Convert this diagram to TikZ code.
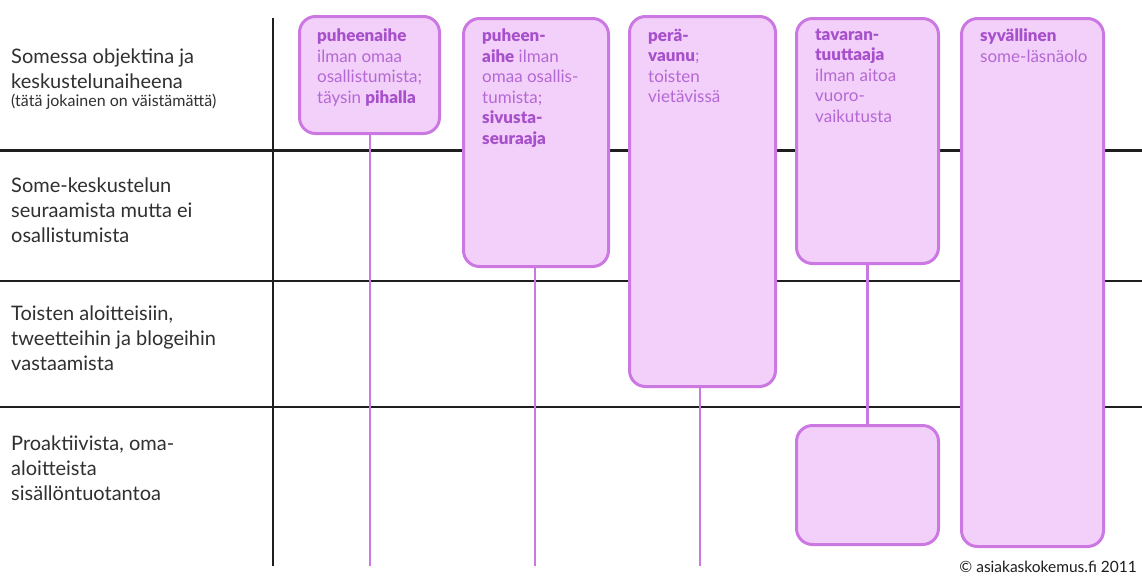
\documentclass[tikz,border=0pt]{standalone}
\usepackage{fontspec}
\setmainfont{Lato}[BoldFont={Lato Black}]
\definecolor{boxfill}{HTML}{F3D0FA}
\definecolor{boxdraw}{HTML}{CC78E2}
\definecolor{boxtext}{HTML}{B468D4}
\definecolor{boxbold}{HTML}{A650CC}
\definecolor{ink}{HTML}{1E1E1E}
\definecolor{labelink}{HTML}{303030}
\tikzset{
  box/.style={draw=boxdraw, line width=3pt, fill=boxfill, rounded corners=16pt, anchor=north west, inner sep=0pt},
  stem/.style={draw=boxdraw, line width=2.4pt},
  grid/.style={draw=ink, line width=2.6pt},
  boxlabel/.style={anchor=north west, align=left, inner sep=0pt, text=boxtext, font=\fontsize{17}{20.5}\selectfont, execute at begin node=\strut},
  rowlabel/.style={anchor=north west, align=left, inner sep=0pt, text=labelink, font=\fontsize{20}{25}\selectfont, execute at begin node=\strut},
}
\newcommand{\bb}[1]{{\bfseries\color{boxbold}#1}}
\begin{document}
\begin{tikzpicture}[x=1pt,y=-1pt]
\useasboundingbox (0,0) rectangle (1142,579);
\fill[white] (0,0) rectangle (1142,579);
% grid
\coordinate (vt) at (273,18);
\coordinate (vb) at (273,566);
\draw[draw=ink, line width=2pt] (vt) -- (vb);
\coordinate (h1l) at (0,150); \coordinate (h1r) at (1142,150);
\coordinate (h2l) at (0,281); \coordinate (h2r) at (1142,281);
\coordinate (h3l) at (0,407); \coordinate (h3r) at (1142,407);
\draw[grid, line width=3pt] (h1l) -- (h1r);
\draw[grid] (h2l) -- (h2r);
\draw[grid] (h3l) -- (h3r);
% row labels (first baselines at 66, 195, 323, 453)
\node[rowlabel] (r1) at (11,48.5) {Somessa objektina ja\\keskustelunaiheena\\[-7pt]{\fontsize{16}{18}\selectfont (tätä jokainen on väistämättä)}};
\node[rowlabel] (r2) at (11,177.5) {Some-keskustelun\\seuraamista mutta ei\\osallistumista};
\node[rowlabel] (r3) at (11,305.5) {Toisten aloitteisiin,\\tweetteihin ja blogeihin\\vastaamista};
\node[rowlabel] (r4) at (11,435.5) {Proaktiivista, oma-\\aloitteista\\sisällöntuotantoa};
% stems end points
\coordinate (e1) at (370,566);
\coordinate (e2) at (535,566);
\coordinate (e3) at (700,566);
% boxes
\node[box, minimum width=140pt, minimum height=117pt] (b1) at (298,15) {};
\node[box, minimum width=145pt, minimum height=248pt] (b2) at (462,17) {};
\node[box, minimum width=146pt, minimum height=370pt] (b3) at (628,15) {};
\node[box, minimum width=142pt, minimum height=245pt] (b4) at (795,17) {};
\node[box, minimum width=142pt, minimum height=119pt] (b4b) at (795,424) {};
\node[box, minimum width=142pt, minimum height=528pt] (b5) at (960,17) {};
\draw[stem] (b1.south -| e1) -- (e1);
\draw[stem] (b2.south -| e2) -- (e2);
\draw[stem] (b3.south -| e3) -- (e3);
\draw[stem] (b4.south) -- (b4b.north);
% box texts (first baseline at 43)
\node[boxlabel] (t1) at (317,28.6) {\bb{puheenaihe}\\ilman omaa\\osallistumista;\\täysin \bb{pihalla}};
\node[boxlabel] (t2) at (482,28.6) {\bb{puheen-}\\\bb{aihe} ilman\\omaa osallis-\\tumista;\\\bb{sivusta-}\\\bb{seuraaja}};
\node[boxlabel] (t3) at (648,28.6) {\bb{perä-}\\\bb{vaunu};\\toisten\\vietävissä};
\node[boxlabel] (t4) at (815,28.6) {\bb{tavaran-}\\\bb{tuuttaaja}\\ilman aitoa\\vuoro-\\vaikutusta};
\node[boxlabel] (t5) at (980,28.6) {\bb{syvällinen}\\some-läsnäolo};
% copyright
\node[anchor=base east, inner sep=0pt, text=ink, font=\fontsize{15.5}{18}\selectfont] (cr) at (1137,572) {© asiakaskokemus.fi 2011};
\end{tikzpicture}
\end{document}
